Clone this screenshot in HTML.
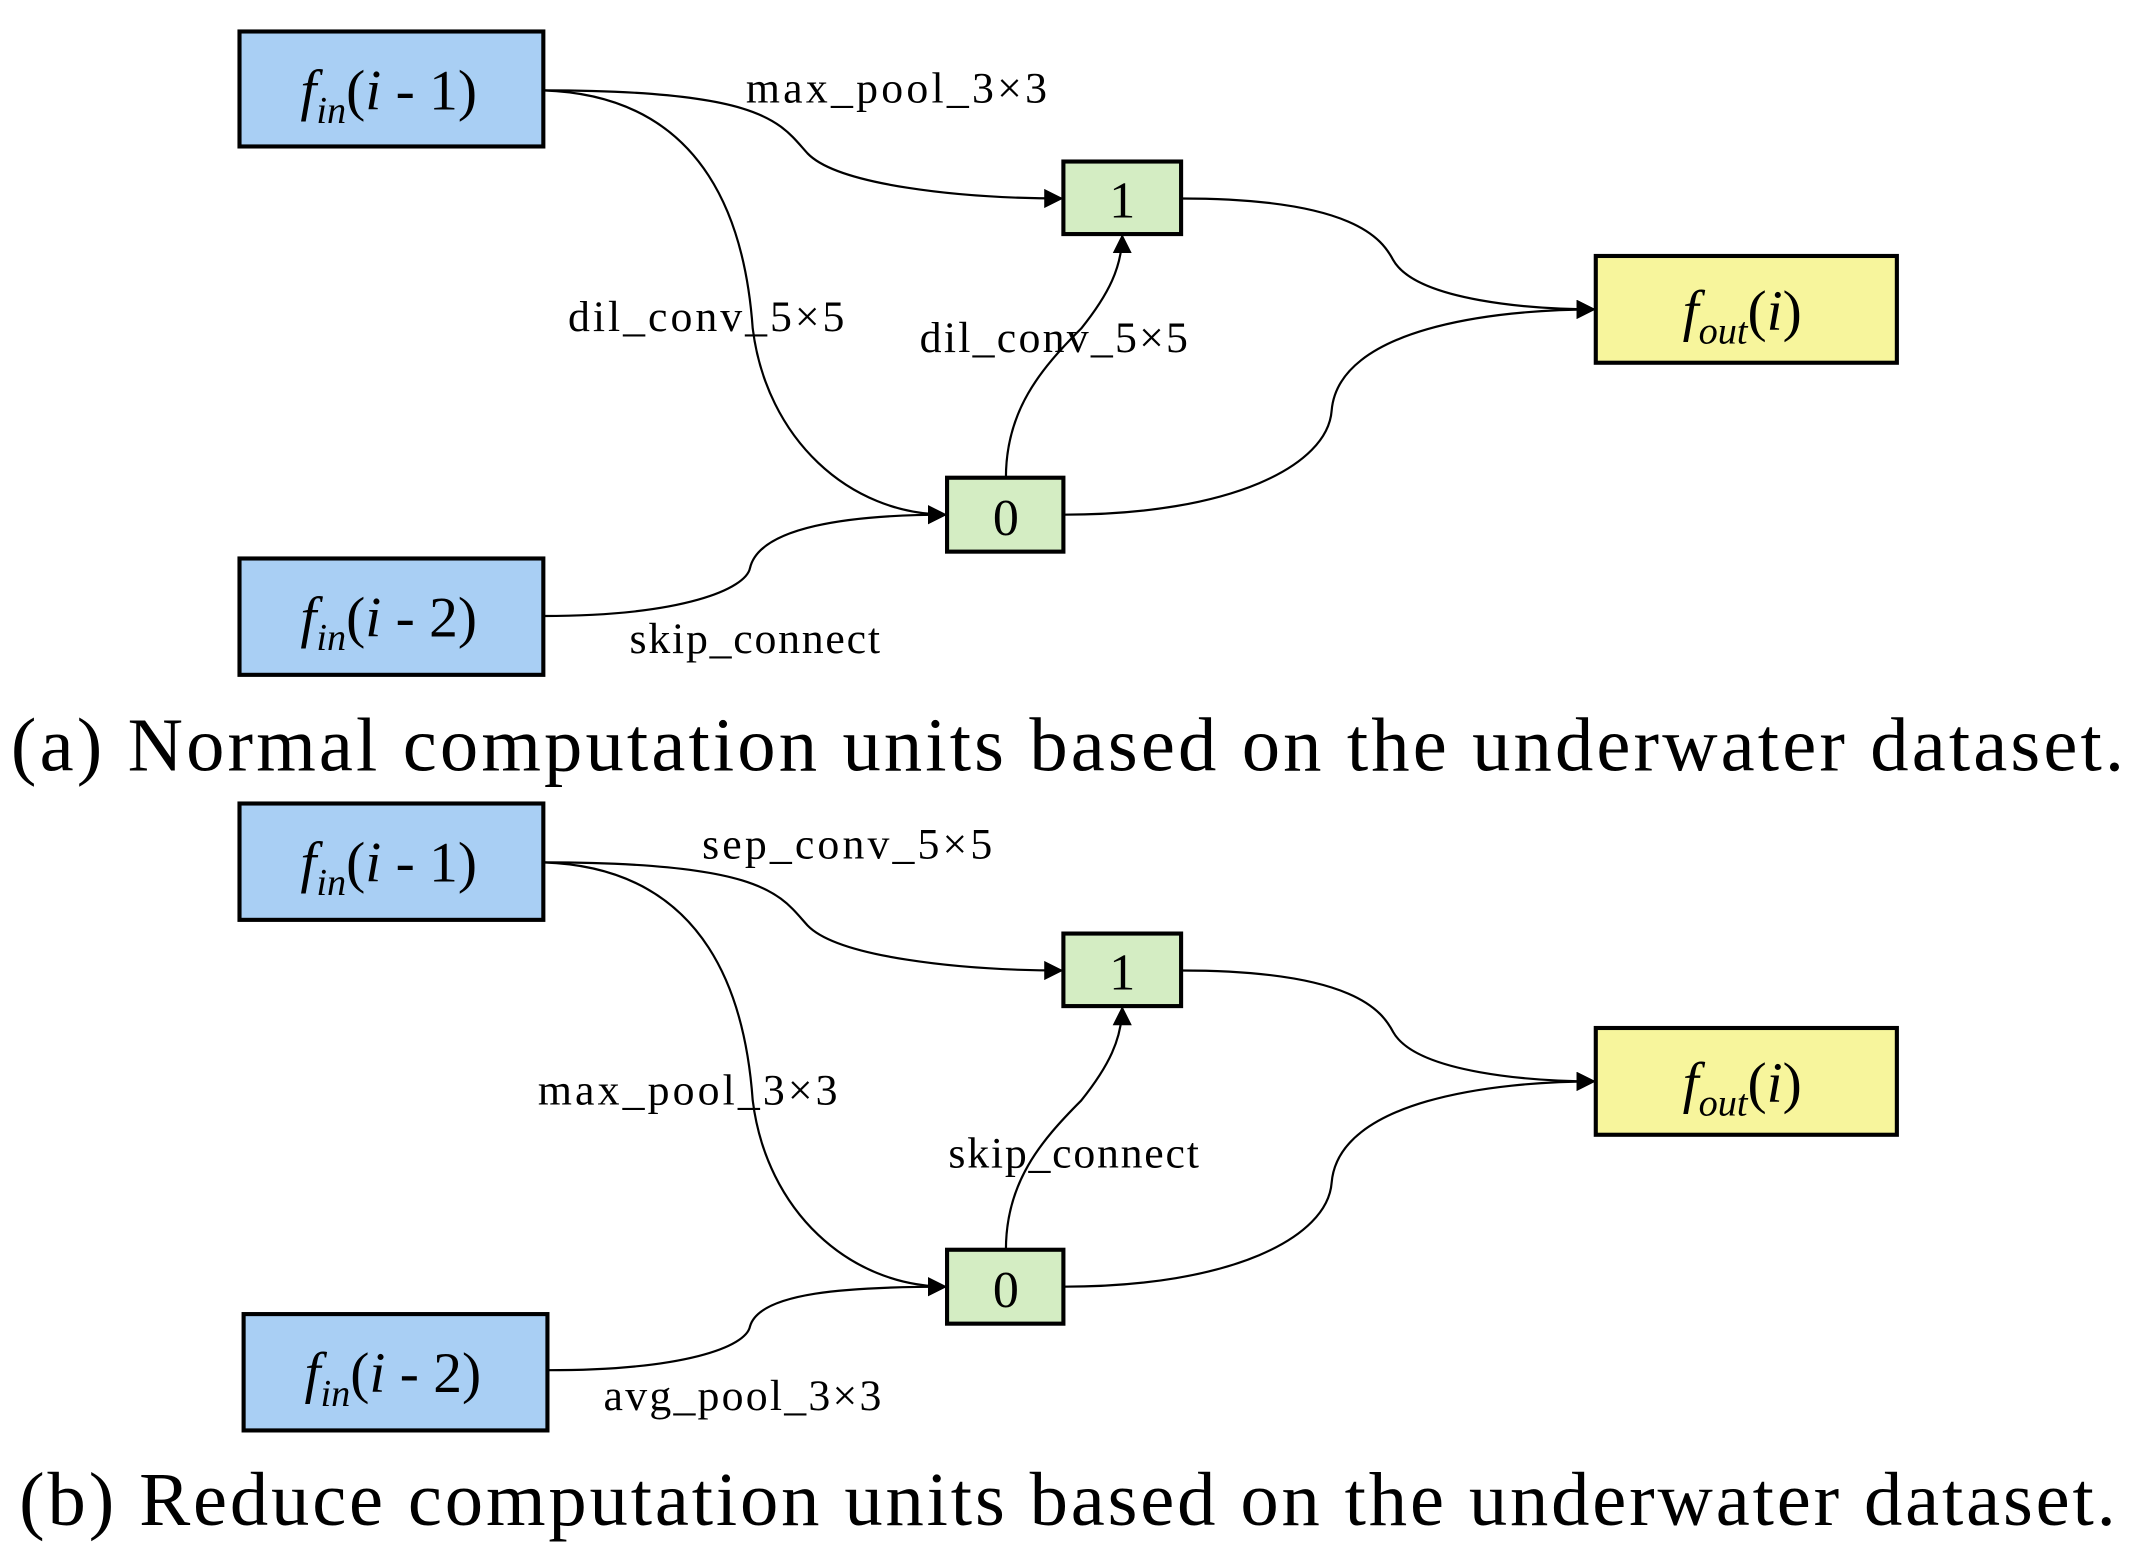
<!DOCTYPE html>
<html><head><meta charset="utf-8"><style>
html,body{margin:0;padding:0;background:#fff;}
svg{display:block;}
text{font-family:"Liberation Serif",serif;fill:#000;}
</style></head><body>
<svg width="2135" height="1555" viewBox="0 0 1560 1136" preserveAspectRatio="none" xmlns="http://www.w3.org/2000/svg">
<defs>
<marker id="ar" viewBox="0 0 10 10" refX="10" refY="5" markerWidth="14" markerHeight="14" markerUnits="userSpaceOnUse" orient="auto">
<path d="M0,0 L10,5 L0,10 z" fill="#000"/>
</marker>
</defs>
<g id="a">
<g fill="none" stroke="#000" stroke-width="1.6" marker-end="url(#ar)">
<path d="M397,66 C560,66 570,90 590,112 C612,135 700,145 777,145"/>
<path d="M397,66 C520,70 545,170 550,240 C560,320 620,376 692,376"/>
<path d="M397,450 C500,450 545,430 548,415 C555,385 620,376 692,376"/>
<path d="M735,349 C735,300 760,270 790,240 C810,215 820,195 820,171"/>
<path d="M863,145 C990,145 1010,175 1018,190 C1035,220 1120,226 1166,226"/>
<path d="M777,376 C900,376 970,340 973,300 C978,240 1090,226 1166,226"/>
</g>
<rect x="175" y="23" width="222" height="84" fill="#a9cff4" stroke="#000" stroke-width="3"/>
<rect x="175" y="408" width="222" height="85" fill="#a9cff4" stroke="#000" stroke-width="3"/>
<rect x="777" y="118" width="86" height="53" fill="#d4edc3" stroke="#000" stroke-width="3"/>
<rect x="692" y="349" width="85" height="54" fill="#d4edc3" stroke="#000" stroke-width="3"/>
<rect x="1166" y="187" width="220" height="78" fill="#f7f59c" stroke="#000" stroke-width="3"/>
<text x="284" y="80" font-size="42" text-anchor="middle"><tspan font-style="italic">f</tspan><tspan font-style="italic" font-size="28" dy="10">in</tspan><tspan dy="-10">(</tspan><tspan font-style="italic">i</tspan> - 1)</text>
<text x="284" y="465" font-size="42" text-anchor="middle"><tspan font-style="italic">f</tspan><tspan font-style="italic" font-size="28" dy="10">in</tspan><tspan dy="-10">(</tspan><tspan font-style="italic">i</tspan> - 2)</text>
<text x="820" y="159" font-size="38" text-anchor="middle">1</text>
<text x="735" y="391" font-size="38" text-anchor="middle">0</text>
<text x="1273" y="241" font-size="42" text-anchor="middle"><tspan font-style="italic">f</tspan><tspan font-style="italic" font-size="28" dy="10">out</tspan><tspan dy="-10">(</tspan><tspan font-style="italic">i</tspan>)</text>
<text x="545" y="75" font-size="32" textLength="220">max_pool_3×3</text>
<text x="415" y="242" font-size="32" textLength="202">dil_conv_5×5</text>
<text x="672" y="257" font-size="32" textLength="196">dil_conv_5×5</text>
<text x="460" y="477" font-size="32" textLength="183">skip_connect</text>
<text x="8" y="563" font-size="56" textLength="1544">(a) Normal computation units based on the underwater dataset.</text>
</g>
<g id="b" transform="translate(0,564)">
<g fill="none" stroke="#000" stroke-width="1.6" marker-end="url(#ar)">
<path d="M397,66 C560,66 570,90 590,112 C612,135 700,145 777,145"/>
<path d="M397,66 C520,70 545,170 550,240 C560,320 620,376 692,376"/>
<path d="M400,437 C500,437 545,420 548,405 C555,380 620,376 692,376"/>
<path d="M735,349 C735,300 760,270 790,240 C810,215 820,195 820,171"/>
<path d="M863,145 C990,145 1010,175 1018,190 C1035,220 1120,226 1166,226"/>
<path d="M777,376 C900,376 970,340 973,300 C978,240 1090,226 1166,226"/>
</g>
<rect x="175" y="23" width="222" height="85" fill="#a9cff4" stroke="#000" stroke-width="3"/>
<rect x="178" y="396" width="222" height="85" fill="#a9cff4" stroke="#000" stroke-width="3"/>
<rect x="777" y="118" width="86" height="53" fill="#d4edc3" stroke="#000" stroke-width="3"/>
<rect x="692" y="349" width="85" height="54" fill="#d4edc3" stroke="#000" stroke-width="3"/>
<rect x="1166" y="187" width="220" height="78" fill="#f7f59c" stroke="#000" stroke-width="3"/>
<text x="284" y="80" font-size="42" text-anchor="middle"><tspan font-style="italic">f</tspan><tspan font-style="italic" font-size="28" dy="10">in</tspan><tspan dy="-10">(</tspan><tspan font-style="italic">i</tspan> - 1)</text>
<text x="287" y="453" font-size="42" text-anchor="middle"><tspan font-style="italic">f</tspan><tspan font-style="italic" font-size="28" dy="10">in</tspan><tspan dy="-10">(</tspan><tspan font-style="italic">i</tspan> - 2)</text>
<text x="820" y="159" font-size="38" text-anchor="middle">1</text>
<text x="735" y="391" font-size="38" text-anchor="middle">0</text>
<text x="1273" y="241" font-size="42" text-anchor="middle"><tspan font-style="italic">f</tspan><tspan font-style="italic" font-size="28" dy="10">out</tspan><tspan dy="-10">(</tspan><tspan font-style="italic">i</tspan>)</text>
<text x="513" y="63" font-size="32" textLength="212">sep_conv_5×5</text>
<text x="393" y="243" font-size="32" textLength="219">max_pool_3×3</text>
<text x="693" y="289" font-size="32" textLength="183">skip_connect</text>
<text x="441" y="466" font-size="32" textLength="203">avg_pool_3×3</text>
<text x="14" y="550" font-size="56" textLength="1532">(b) Reduce computation units based on the underwater dataset.</text>
</g>
</svg>
</body></html>
